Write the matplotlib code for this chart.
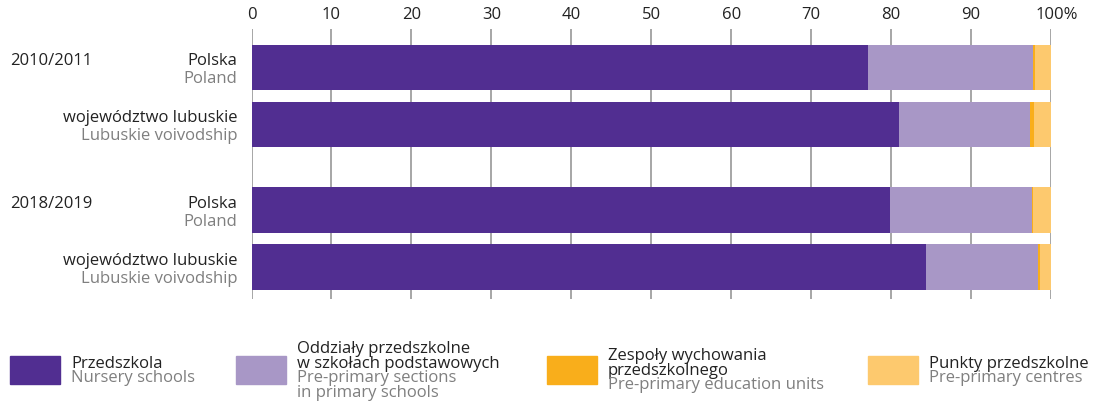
import matplotlib.pyplot as plt
from matplotlib.patches import Rectangle
import matplotlib.transforms as mtransforms
import numpy as np

plt.rcParams['font.family'] = ['Open Sans', 'DejaVu Sans']

# data (shares in %)
years = ['2010/2011', '2018/2019']
regions_pl = ['Polska', 'województwo lubuskie', 'Polska', 'województwo lubuskie']
regions_en = ['Poland', 'Lubuskie voivodship', 'Poland', 'Lubuskie voivodship']
nursery = [77.1, 81.0, 79.8, 84.4]
sections = [20.6, 16.4, 17.8, 14.0]
units = [0.3, 0.5, 0.1, 0.2]
centres = [2.0, 2.1, 2.3, 1.4]

series_pl = ['Przedszkola', 'Oddziały przedszkolne\nw szkołach podstawowych',
             'Zespoły wychowania\nprzedszkolnego', 'Punkty przedszkolne']
series_en = ['Nursery schools', 'Pre-primary sections\nin primary schools',
             'Pre-primary education units', 'Pre-primary centres']
colors = ['#512E91', '#A897C6', '#F9AE1B', '#FDC96E']
dark = '#222222'
gray = '#7f7f7f'

ypos = np.array([0, 1, 2.5, 3.5])

fig = plt.figure(figsize=(10.97, 4.02), dpi=100)
ax = fig.add_axes([251.5 / 1097, 1 - 300 / 402, 799.5 / 1097, 270 / 402])

left = np.zeros(4)
for vals, c in zip([nursery, sections, units, centres], colors):
    ax.barh(ypos, vals, left=left, height=0.8, color=c, zorder=2)
    left += np.array(vals)

ax.set_xlim(0, 100)
ax.set_ylim(4.06, -0.675)
ax.set_xticks(range(0, 101, 10))
ax.set_xticklabels([str(v) for v in range(0, 100, 10)] + ['100%'], fontsize=12, color=dark)
ax.xaxis.tick_top()
ax.tick_params(axis='x', length=0, pad=5)
# shift "100%" so that "100" sits over the line
lab = ax.get_xticklabels()[-1]
lab.set_transform(lab.get_transform() + mtransforms.ScaledTranslation(6 / 100, 0, fig.dpi_scale_trans))
ax.set_yticks([])
for s in ax.spines.values():
    s.set_visible(False)
ax.grid(axis='x', color='#a6a6a6', lw=1.4, zorder=1)
ax.set_axisbelow(True)

tr = ax.get_yaxis_transform()
for y, pl, en in zip(ypos, regions_pl, regions_en):
    ax.text(-0.018, y - 0.13, pl, transform=tr, ha='right', va='center', fontsize=12, color=dark)
    ax.text(-0.018, y + 0.19, en, transform=tr, ha='right', va='center', fontsize=12, color=gray)
for y, yr in zip(ypos[[0, 2]], years):
    ax.text(-0.302, y - 0.13, yr, transform=tr, ha='left', va='center', fontsize=12, color=dark)

# legend drawn by hand
box_x = [10, 236, 547, 868]
for i in range(4):
    x0 = box_x[i]
    fig.patches.append(Rectangle((x0 / 1097, 1 - 385 / 402), 50 / 1097, 28 / 402,
                                 transform=fig.transFigure, color=colors[i]))
    lines = [(t, dark) for t in series_pl[i].split('\n')] + \
            [(t, gray) for t in series_en[i].split('\n')]
    n = len(lines)
    top = 371 - (n - 1) * 14.5 / 2
    for k, (t, c) in enumerate(lines):
        fig.text((x0 + 61) / 1097, 1 - (top + k * 14.5) / 402, t, ha='left', va='center',
                 fontsize=12, color=c)

fig.savefig('out.png', dpi=100)
